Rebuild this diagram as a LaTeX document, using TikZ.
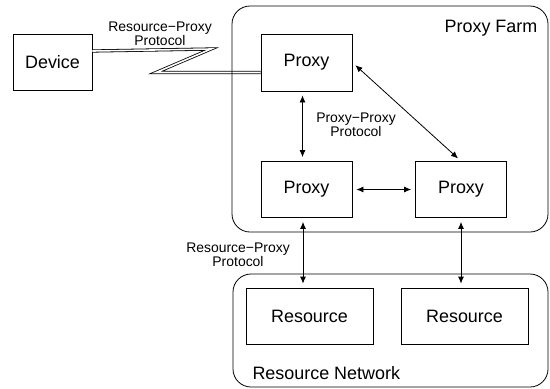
\documentclass[tikz,border=0pt]{standalone}
\usepackage{fontspec}
\setmainfont{Liberation Sans}
\usetikzlibrary{arrows.meta}

\begin{document}
\begin{tikzpicture}[x=1bp, y=-1bp,
	box/.style={draw, line width=0.8bp, inner sep=0pt, font=\fontsize{18}{20}\selectfont},
	area/.style={draw, line width=0.8bp, rounded corners=18bp},
	link/.style={{Latex[length=7bp,width=6bp]}-{Latex[length=7bp,width=6bp]}, line width=0.8bp, shorten <=4bp, shorten >=4bp},
	wire/.style={double, double distance=1.6bp, line width=0.8bp},
	note/.style={align=center, font=\fontsize{14}{13}\selectfont, inner sep=0pt}]
	\useasboundingbox (0,0) rectangle (550,388);
	%\draw[help lines] (0,0) grid[step=50] (550,388);
	\node[box, minimum width=79bp, minimum height=56bp] (device) at (52.5,62) {Device};
	\node[box, minimum width=91bp, minimum height=57bp] (proxyA) at (306.5,62.5) {Proxy};
	\node[box, minimum width=91bp, minimum height=56bp] (proxyB) at (306.5,189.5) {Proxy};
	\node[box, minimum width=91bp, minimum height=56bp] (proxyC) at (461,189.5) {Proxy};
	\node[box, minimum width=127bp, minimum height=56bp] (resA) at (309.5,316) {Resource};
	\node[box, minimum width=127bp, minimum height=56bp] (resB) at (464.5,316) {Resource};
	\coordinate (bendA) at (211,49);
	\coordinate (bendB) at (156,72.5);
	\draw[wire] ([yshift=11bp]device.east) -- (bendA) -- (bendB) -- ([yshift=-10bp]proxyA.west);
	\draw[area] (232,6) rectangle (548,232);
	\draw[area] (233,274) rectangle (548,387);
	\node[anchor=base, font=\fontsize{18}{20}\selectfont] (farm) at (491,32) {Proxy Farm};
	\node[anchor=base west, font=\fontsize{18}{20}\selectfont] (net) at (249,379) {Resource Network};
	\node[note] (rpTop) at (160,34) {Resource−Proxy\\Protocol};
	\node[note] (pp) at (356,125) {Proxy−Proxy\\Protocol};
	\node[note] (rpLow) at (238,255) {Resource−Proxy\\Protocol};
	\draw[link] ([xshift=-4bp]proxyA.south) -- ([xshift=-4bp]proxyB.north);
	\draw[link] (proxyA.east) -- (proxyC.north);
	\draw[link] (proxyB.east) -- (proxyC.west);
	\draw[link] ([xshift=-3.5bp]proxyB.south) -- ([xshift=-3.5bp]proxyB.south |- resA.north);
	\draw[link] (proxyC.south) -- (proxyC.south |- resB.north);
\end{tikzpicture}
\end{document}
